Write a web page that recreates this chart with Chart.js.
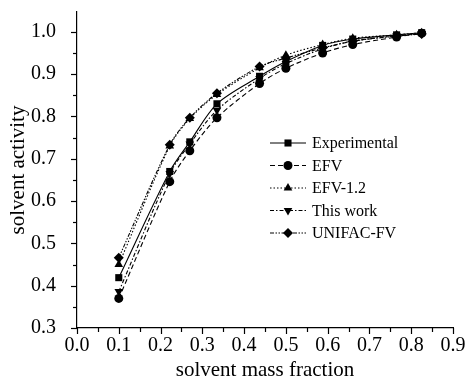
<!DOCTYPE html>
<html>
<head>
<meta charset="utf-8">
<script src="https://cdn.jsdelivr.net/npm/chart.js@4.4.0/dist/chart.umd.min.js"></script>
<style>
  html, body { margin: 0; padding: 0; background: #fff; }
  #wrap { width: 465px; height: 383px; }
</style>
</head>
<body>
<div id="wrap"><canvas id="chart" width="465" height="383"></canvas></div>
<script>
// mass fraction of solvent
const massFraction = [0.1, 0.222, 0.27, 0.335, 0.437, 0.5, 0.588, 0.66, 0.765, 0.825];

const experimental = [0.419, 0.670, 0.740, 0.830, 0.895, 0.930, 0.968, 0.983, 0.993, 0.998];
const efv          = [0.370, 0.646, 0.719, 0.797, 0.878, 0.914, 0.950, 0.970, 0.988, 0.997];
const efv12        = [0.450, 0.730, 0.795, 0.852, 0.915, 0.945, 0.970, 0.985, 0.993, 0.998];
const thisWork     = [0.386, 0.665, 0.735, 0.815, 0.890, 0.925, 0.960, 0.978, 0.991, 0.996];
const unifacFv     = [0.466, 0.733, 0.797, 0.855, 0.918, 0.938, 0.962, 0.978, 0.990, 0.995];

const seriesNames = ["Experimental", "EFV", "EFV-1.2", "This work", "UNIFAC-FV"];

const xTicks = [0, 0.1, 0.2, 0.3, 0.4, 0.5, 0.6, 0.7, 0.8, 0.9];
const yTicks = [0.3, 0.4, 0.5, 0.6, 0.7, 0.8, 0.9, 1.0];

const FONT = "'Liberation Serif', 'Times New Roman', serif";

function pts(ys) {
    return massFraction.map((x, i) => ({ x: x, y: ys[i] }));
}

function makeSet(label, ys, style, rot, dash) {
    return {
        label: label,
        data: pts(ys),
        showLine: true,
        borderColor: "#000",
        backgroundColor: "#000",
        borderWidth: 1.1,
        borderDash: dash,
        pointStyle: style,
        pointRotation: rot,
        pointRadius: style === "circle" ? 4.5 : 5,
        pointBorderWidth: 0,
        tension: 0.3
    };
}

const datasets = [
    makeSet(seriesNames[0], experimental, "rect", 0, []),
    makeSet(seriesNames[1], efv, "circle", 0, [5, 3]),
    makeSet(seriesNames[2], efv12, "triangle", 0, [1.5, 2]),
    makeSet(seriesNames[3], thisWork, "triangle", 180, [4, 2, 1.5, 2]),
    makeSet(seriesNames[4], unifacFv, "rectRot", 0, [4, 1.5, 1.5, 1.5, 1.5, 1.5])
];

// outward tick marks, major + minor
const tickMarks = {
    id: "tickMarks",
    afterDraw(chart) {
        const ctx = chart.ctx;
        const xs = chart.scales.x, ys = chart.scales.y;
        const area = chart.chartArea;
        ctx.save();
        ctx.strokeStyle = "#000";
        ctx.lineWidth = 1.2;
        for (let i = 0; i <= 18; i++) {
            const v = i * 0.05;
            const px = Math.round(xs.getPixelForValue(v)) + 0.5;
            const len = i % 2 === 0 ? 6 : 4;
            ctx.beginPath();
            ctx.moveTo(px, area.bottom);
            ctx.lineTo(px, area.bottom + len);
            ctx.stroke();
        }
        for (let i = 0; i <= 14; i++) {
            const v = 0.3 + i * 0.05;
            const py = Math.round(ys.getPixelForValue(v)) + 0.5;
            const len = i % 2 === 0 ? 6 : 4;
            ctx.beginPath();
            ctx.moveTo(area.left, py);
            ctx.lineTo(area.left - len, py);
            ctx.stroke();
        }
        ctx.restore();
    }
};

// legend drawn inside the plot
const innerLegend = {
    id: "innerLegend",
    afterDraw(chart) {
        const ctx = chart.ctx;
        const x0 = 270, y0 = 143, rowH = 22.5;
        ctx.save();
        chart.data.datasets.forEach((ds, i) => {
            const y = y0 + i * rowH;
            ctx.strokeStyle = "#000";
            ctx.lineWidth = 1;
            ctx.setLineDash(ds.borderDash);
            ctx.beginPath();
            ctx.moveTo(x0, y);
            ctx.lineTo(x0 + 36, y);
            ctx.stroke();
            ctx.setLineDash([]);
            ctx.fillStyle = "#000";
            Chart.helpers.drawPoint(ctx, {
                pointStyle: ds.pointStyle,
                rotation: ds.pointRotation,
                radius: ds.pointRadius,
                borderWidth: 0
            }, x0 + 18, y);
            ctx.fillStyle = "#000";
            ctx.font = "16px " + FONT;
            ctx.textBaseline = "middle";
            ctx.fillText(ds.label, x0 + 42, y + 1);
        });
        ctx.restore();
    }
};

new Chart(document.getElementById("chart"), {
    type: "scatter",
    data: { datasets: datasets },
    options: {
        responsive: false,
        animation: false,
        layout: { padding: { top: 12, right: 12, left: 0, bottom: 0 } },
        plugins: {
            legend: { display: false },
            tooltip: { enabled: false }
        },
        scales: {
            x: {
                type: "linear",
                min: 0,
                max: 0.9,
                afterBuildTicks: s => { s.ticks = xTicks.map(v => ({ value: v })); },
                afterFit: s => { s.height = 55; s.paddingLeft = 0; s.paddingRight = 0; },
                grid: { display: false },
                border: { display: true, color: "#000", width: 1.2 },
                ticks: {
                    color: "#000",
                    padding: -2,
                    maxRotation: 0,
                    font: { family: FONT, size: 20 },
                    callback: v => v.toFixed(1)
                },
                title: {
                    display: true,
                    text: "solvent mass fraction",
                    color: "#000",
                    padding: { top: 0, bottom: 0 },
                    font: { family: FONT, size: 21 }
                }
            },
            y: {
                type: "linear",
                min: 0.3,
                max: 1.047,
                afterBuildTicks: s => { s.ticks = yTicks.map(v => ({ value: v })); },
                afterFit: s => { s.width = 77; s.paddingTop = 0; s.paddingBottom = 0; },
                grid: { display: false },
                border: { display: true, color: "#000", width: 1.2 },
                ticks: {
                    color: "#000",
                    padding: 13,
                    font: { family: FONT, size: 20 },
                    callback: v => v.toFixed(1)
                },
                title: {
                    display: true,
                    text: "solvent activity",
                    color: "#000",
                    padding: { top: 6, bottom: 0 },
                    font: { family: FONT, size: 21 }
                }
            }
        }
    },
    plugins: [tickMarks, innerLegend]
});
</script>
</body>
</html>
